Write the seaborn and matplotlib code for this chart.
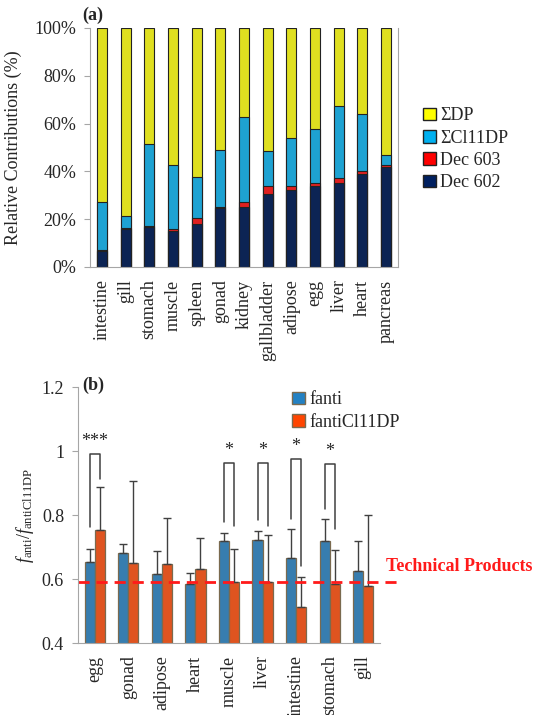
import numpy as np
import pandas as pd
import matplotlib
matplotlib.use("Agg")
import matplotlib.pyplot as plt
import seaborn as sns
from matplotlib.patches import Patch

# -----------------------------
# Data (a): relative contributions (%)
# -----------------------------
tissues_a = ["intestine", "gill", "stomach", "muscle", "spleen", "gonad", "kidney",
             "gallbladder", "adipose", "egg", "liver", "heart", "pancreas"]
dec602 = [6.7, 15.7, 16.8, 15.0, 17.9, 24.5, 25.2, 30.6, 32.2, 34.1, 35.1, 38.9, 41.7]
dec603 = [0.3, 0.5, 0.3, 0.7, 2.4, 0.7, 2.2, 3.2, 1.8, 1.0, 2.0, 1.4, 0.8]
cl11dp = [20.0, 5.0, 34.2, 27.0, 17.2, 23.8, 35.3, 14.6, 19.8, 22.5, 30.3, 23.9, 4.4]

# -----------------------------
# Data (b): fanti ratios
# -----------------------------
tissues_b = ["egg", "gonad", "adipose", "heart", "muscle", "liver", "intestine", "stomach", "gill"]
fanti = [0.654, 0.682, 0.617, 0.584, 0.718, 0.721, 0.666, 0.719, 0.625]
fanti_err = [0.039, 0.028, 0.072, 0.035, 0.027, 0.028, 0.089, 0.070, 0.094]
fanti_cl = [0.754, 0.651, 0.647, 0.632, 0.592, 0.590, 0.514, 0.583, 0.577]
fanti_cl_err = [0.134, 0.255, 0.144, 0.097, 0.101, 0.147, 0.093, 0.107, 0.222]
technical = 0.59

# significance brackets
sig_idx = [0, 4, 5, 6, 7]
sig_text = ["***", "*", "*", "*", "*"]
sig_top = [0.992, 0.962, 0.964, 0.975, 0.960]
sig_left = [0.763, 0.777, 0.783, 0.788, 0.819]
sig_right = [0.914, 0.766, 0.765, 0.641, 0.757]

# -----------------------------
# Style
# -----------------------------
sns.set_style("white")
plt.rcParams["font.family"] = "serif"
plt.rcParams["font.serif"] = ["Liberation Serif", "DejaVu Serif"]
plt.rcParams["mathtext.fontset"] = "custom"
plt.rcParams["mathtext.rm"] = "Liberation Serif"
plt.rcParams["mathtext.it"] = "Liberation Serif:italic"
plt.rcParams["font.size"] = 13

W, H = 534, 715
fig = plt.figure(figsize=(W / 100, H / 100), dpi=100)

spine_col = "#a6a6a6"

# -----------------------------
# Panel (a)
# -----------------------------
ax1 = fig.add_axes([90 / W, 1 - 267 / H, 308 / W, 239 / H])

df_a = pd.DataFrame({"tissue": tissues_a, "d602": dec602, "d603": dec603, "cl11": cl11dp})
df_a["c1"] = df_a["d602"]
df_a["c2"] = df_a["c1"] + df_a["d603"]
df_a["c3"] = df_a["c2"] + df_a["cl11"]
df_a["c4"] = 100.0

layers = [("c4", "#ffff00"), ("c3", "#00b0f0"), ("c2", "#ff0000"), ("c1", "#002060")]
for col, color in layers:
    sns.barplot(data=df_a, x="tissue", y=col, color=color, width=0.42,
                edgecolor="#222222", linewidth=0.8, errorbar=None, ax=ax1)

ax1.set_ylim(0, 100)
ax1.set_xlim(-0.5, len(tissues_a) - 0.5)
ax1.set_yticks([0, 20, 40, 60, 80, 100])
ax1.set_yticklabels([f"{v}%" for v in range(0, 101, 20)])
ax1.set_ylabel("Relative Contributions (%)", labelpad=9)
ax1.set_xlabel("")
ax1.set_xticks(range(len(tissues_a)))
ax1.set_xticklabels(tissues_a, rotation=90)
ax1.set_xticks(np.arange(-0.5, len(tissues_a), 1), minor=True)
ax1.tick_params(axis="x", which="major", length=0, pad=9)
ax1.tick_params(axis="x", which="minor", length=5, color=spine_col, direction="out")
ax1.tick_params(axis="y", length=4, color=spine_col, direction="out", pad=6, left=True)
for s in ["left", "right", "bottom"]:
    ax1.spines[s].set_color(spine_col)
ax1.spines["top"].set_visible(False)

leg_a = [Patch(facecolor="#ffff00", edgecolor="#222222", label="ΣDP"),
         Patch(facecolor="#00b0f0", edgecolor="#222222", label="ΣCl11DP"),
         Patch(facecolor="#ff0000", edgecolor="#222222", label="Dec 603"),
         Patch(facecolor="#002060", edgecolor="#222222", label="Dec 602")]
ax1.legend(handles=leg_a, loc="upper left", bbox_to_anchor=(416 / W, 1 - 100 / H),
           bbox_transform=fig.transFigure, frameon=False, handlelength=0.7,
           handleheight=0.7, handletextpad=0.25, labelspacing=0.3, borderaxespad=0)

fig.text(82 / W, 1 - 15 / H, "(a)", fontweight="bold", fontsize=13, va="center")

# -----------------------------
# Panel (b)
# -----------------------------
ax2 = fig.add_axes([78 / W, 1 - 643 / H, 302 / W, 256 / H])

df_b = pd.DataFrame({
    "tissue": tissues_b * 2,
    "value": fanti + fanti_cl,
    "series": ["fanti"] * len(tissues_b) + ["fantiCl11DP"] * len(tissues_b),
})
sns.barplot(data=df_b, x="tissue", y="value", hue="series",
            palette=["#2381c3", "#ff4500"], width=0.6, gap=0,
            edgecolor="#7a6a4f", linewidth=0.9, errorbar=None, legend=False, ax=ax2)

for cont, err in zip(ax2.containers, [fanti_err, fanti_cl_err]):
    xs = [p.get_x() + p.get_width() / 2 for p in cont.patches]
    ys = [p.get_height() for p in cont.patches]
    ax2.errorbar(xs, ys, yerr=[np.zeros(len(err)), err], fmt="none",
                 ecolor="#404040", elinewidth=1, capsize=3, capthick=1)

for i, txt, top, lo_l, lo_r in zip(sig_idx, sig_text, sig_top, sig_left, sig_right):
    xl, xr = i - 0.15, i + 0.15
    ax2.plot([xl, xl, xr, xr], [lo_l, top, top, lo_r], color="#404040", lw=1.1,
             solid_joinstyle="round")
    ax2.text(i, top + 0.012, txt, ha="center", va="bottom", fontsize=13)

ax2.axhline(technical, xmin=0, xmax=1.07, color="#ff1a1a", lw=2, ls=(0, (4, 2.5)),
            clip_on=False)
ax2.text(1.02, 0.64, "Technical Products", transform=ax2.get_yaxis_transform(),
         color="#ff1a1a", fontweight="bold", fontsize=13, ha="left", va="center")

ax2.set_ylim(0.4, 1.2)
ax2.set_xlim(-0.5, len(tissues_b) - 0.5)
ax2.set_yticks([0.4, 0.6, 0.8, 1.0, 1.2])
ax2.set_yticklabels(["0.4", "0.6", "0.8", "1", "1.2"])
ax2.set_ylabel(r"$f_{\rm anti}/f_{\rm antiCl11DP}$", labelpad=4)
ax2.set_xlabel("")
ax2.set_xticks(range(len(tissues_b)))
ax2.set_xticklabels(tissues_b, rotation=90)
ax2.set_xticks(np.arange(-0.5, len(tissues_b), 1), minor=True)
ax2.tick_params(axis="x", which="major", length=0, pad=9)
ax2.tick_params(axis="x", which="minor", length=5, color=spine_col, direction="out")
ax2.tick_params(axis="y", length=4, color=spine_col, direction="out", pad=6, left=True)
for s in ["left", "bottom"]:
    ax2.spines[s].set_color(spine_col)
ax2.spines["top"].set_visible(False)
ax2.spines["right"].set_visible(False)

leg_b = [Patch(facecolor="#2381c3", edgecolor="#7a6a4f", label="fanti"),
         Patch(facecolor="#ff4500", edgecolor="#7a6a4f", label="fantiCl11DP")]
ax2.legend(handles=leg_b, loc="upper left", bbox_to_anchor=(285 / W, 1 - 384 / H),
           bbox_transform=fig.transFigure, frameon=False, handlelength=0.7,
           handleheight=0.7, handletextpad=0.25, labelspacing=0.3, borderaxespad=0)

fig.text(82 / W, 1 - 385 / H, "(b)", fontweight="bold", fontsize=13, va="center")

fig.savefig("out.png", dpi=100)
plt.close(fig)
